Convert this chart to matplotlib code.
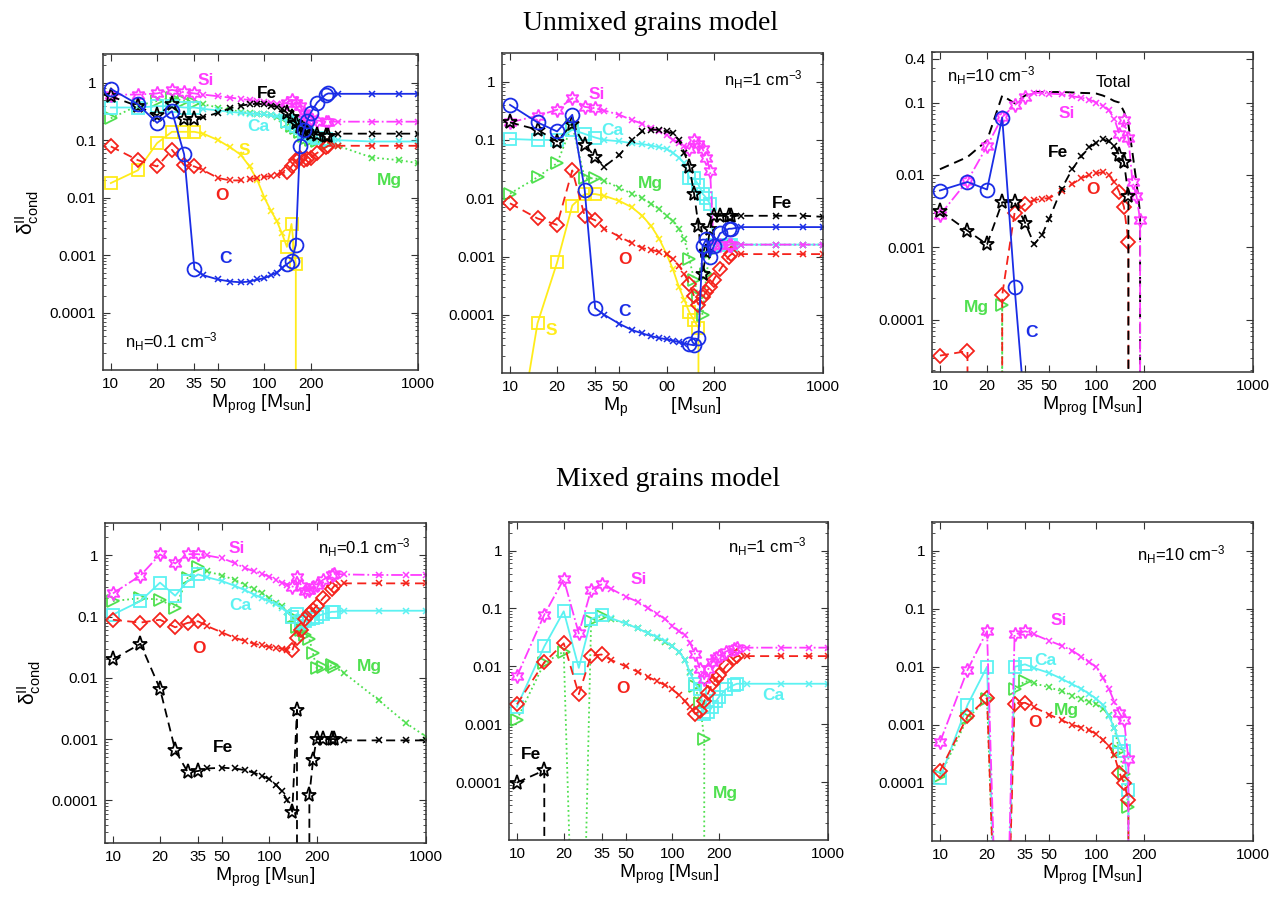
import numpy as np
import matplotlib.pyplot as plt
from matplotlib.ticker import FixedLocator, FixedFormatter, NullLocator, NullFormatter, LogLocator

plt.rcParams['font.family'] = 'Liberation Sans'
plt.rcParams['mathtext.fontset'] = 'custom'
plt.rcParams['mathtext.rm'] = 'Liberation Sans'
plt.rcParams['mathtext.it'] = 'Liberation Sans:italic'
plt.rcParams['mathtext.bf'] = 'Liberation Sans:bold'

nan = np.nan

# progenitor masses [M_sun]
MASS = [10, 15, 20, 25, 30, 35, 40, 50, 60, 70, 80, 90, 100, 110, 120, 130,
        140, 150, 160, 170, 180, 190, 200, 220, 250, 260, 300, 500, 750, 1000]
MASS_N10 = [10, 15, 20, 25, 30, 35, 40, 45, 50, 60, 70, 80, 90, 100, 110, 120, 130,
            140, 150, 160, 170, 180, 190, 200]
MASS_MIX10 = [10, 15, 20, 25, 30, 35, 40, 50, 60, 70, 80, 90, 100, 110, 120, 130,
              140, 150, 160, 170]

XTICKS = [10, 20, 35, 50, 100, 200, 1000]
XLABELS = ['10', '20', '35', '50', '100', '200', '1000']
XLABELS_B = ['10', '20', '35', '50', '00', '200', '1000']

# ---- unmixed, n_H = 0.1
P1_SI = [0.62, 0.62, 0.65, 0.75, 0.68, 0.65, 0.62, 0.58, 0.55, 0.52, 0.5, 0.48, 0.46, 0.44, 0.43, 0.42,
         0.45, 0.5, 0.45, 0.4, 0.3, 0.25, 0.23, 0.22, 0.21, 0.21, 0.21, 0.21, 0.21, 0.21]
P1_FE = [0.58, 0.39, 0.27, 0.42, 0.23, 0.23, 0.25, 0.3, 0.36, 0.4, 0.42, 0.43, 0.42, 0.4, 0.38, 0.35,
         0.3, 0.25, 0.2, 0.17, 0.15, 0.14, 0.13, 0.125, 0.12, 0.12, 0.13, 0.13, 0.13, 0.13]
P1_CA = [0.37, 0.37, 0.39, 0.39, 0.37, 0.37, 0.35, 0.33, 0.31, 0.3, 0.29, 0.285, 0.28, 0.27, 0.26, 0.24,
         0.22, 0.2, 0.18, 0.16, 0.14, 0.13, 0.12, 0.11, 0.105, 0.1, 0.1, 0.095, 0.095, 0.095]
P1_MG = [0.24, 0.4, 0.48, 0.55, 0.48, 0.45, 0.42, 0.37, 0.34, 0.31, 0.3, 0.29, 0.28, 0.27, 0.25, 0.23,
         0.21, 0.18, 0.16, 0.14, 0.12, 0.11, 0.1, 0.095, 0.09, 0.088, 0.08, 0.05, 0.045, 0.04]
P1_O = [0.078, 0.045, 0.035, 0.068, 0.037, 0.035, 0.03, 0.022, 0.02, 0.02, 0.021, 0.022, 0.023, 0.024, 0.025, 0.027,
        0.028, 0.035, 0.045, 0.05, 0.045, 0.048, 0.05, 0.06, 0.075, 0.08, 0.08, 0.08, 0.08, 0.08]
P1_S = [0.018, 0.03, 0.089, 0.14, 0.14, 0.14, 0.13, 0.1, 0.075, 0.056, 0.035, 0.02, 0.01, 0.006, 0.004, 0.0024,
        0.0014, 0.0035, 0.0007, 0, nan, nan, nan, nan, nan, nan, nan, nan, nan, nan]
P1_C = [0.78, 0.42, 0.2, 0.32, 0.057, 0.00058, 0.00045, 0.00038, 0.00035, 0.00034, 0.00035, 0.00038, 0.0004,
        0.00045, 0.0005, 0.0006, 0.0007, 0.0008, 0.0015, 0.08, 0.15, 0.22, 0.3, 0.45, 0.62, 0.65,
        0.64, 0.64, 0.64, 0.64]

# ---- unmixed, n_H = 1
P2_SI = [0.2, 0.26, 0.33, 0.52, 0.37, 0.35, 0.32, 0.27, 0.22, 0.19, 0.16, 0.14, 0.12, 0.1, 0.09, 0.08,
         0.07, 0.1, 0.085, 0.07, 0.05, 0.029, 0.0016, 0.0016, 0.0016, 0.0016, 0.0016, 0.0016, 0.0016, 0.0016]
P2_FE = [0.2, 0.15, 0.094, 0.19, 0.082, 0.052, 0.035, 0.055, 0.1, 0.14, 0.15, 0.15, 0.14, 0.13, 0.1, 0.06,
         0.035, 0.012, 0.0034, 0.0005, 0.0012, 0.003, 0.005, 0.005, 0.005, 0.005, 0.005, 0.005, 0.005, 0.0048]
P2_CA = [0.104, 0.1, 0.1, 0.15, 0.127, 0.11, 0.1, 0.095, 0.088, 0.085, 0.08, 0.075, 0.07, 0.06, 0.05, 0.04,
         0.022, 0.022, 0.017, 0.012, 0.01, 0.008, 0.0016, 0.0016, 0.0016, 0.0016, 0.0016, 0.0016, 0.0016, 0.0016]
P2_MG = [0.012, 0.023, 0.04, 0.18, 0.022, 0.022, 0.02, 0.015, 0.012, 0.01, 0.008, 0.0065, 0.005, 0.004, 0.003, 0.002,
         0.0009, 0.0004, 0.0002, 0.0001, 0.0005, 0.0012, 0.0016, 0.0016, 0.0016, 0.0016, 0.0016, 0.0016, 0.0016, 0.0016]
P2_O = [0.0082, 0.0045, 0.0035, 0.03, 0.005, 0.0042, 0.003, 0.0022, 0.0017, 0.0014, 0.0013, 0.0012, 0.0011,
        0.0009, 0.0007, 0.0005, 0.00034, 0.00021, 0.00015, 0.0002, 0.00025, 0.0003, 0.0004, 0.0006, 0.001, 0.0011,
        0.0011, 0.0011, 0.0011, 0.0011]
P2_S = [1e-7, 7.2e-5, 0.00079, 0.0075, 0.0118, 0.0118, 0.011, 0.009, 0.007, 0.005, 0.0033, 0.002, 0.0011,
        0.0006, 0.0003, 0.00018, 0.00011, 8e-5, 6e-5, 0, nan, nan, nan, nan, nan, nan, nan, nan, nan, nan]
P2_C = [0.4, 0.2, 0.14, 0.27, 0.014, 1.3e-4, 1e-4, 7e-5, 5.5e-5, 4.8e-5, 4.3e-5, 4e-5, 3.8e-5, 3.6e-5, 3.4e-5,
        3.2e-5, 3.1e-5, 3e-5, 4e-5, 0.0015, 0.002, 0.001, 0.0015, 0.0025, 0.003, 0.003,
        0.0032, 0.0032, 0.0032, 0.0032]

# ---- unmixed, n_H = 10
P3_TOTAL = [0.012, 0.0177, 0.03, 0.125, 0.098, 0.125, 0.14, 0.14, 0.14, 0.14, 0.138, 0.136, 0.135, 0.133,
            0.125, 0.115, 0.105, 0.1, 0.075, 0.05, 0.02, 0.008, 0.003, 0]
P3_SI = [0.0028, 0.0083, 0.025, 0.063, 0.092, 0.12, 0.136, 0.136, 0.133, 0.13, 0.122, 0.117, 0.11, 0.1,
         0.09, 0.078, 0.06, 0.037, 0.057, 0.032, 0.008, 0.0052, 0.0024, 0]
P3_C = [0.0061, 0.008, 0.0063, 0.062, 0.00028, 5e-6, nan, nan, nan, nan, nan, nan, nan, nan,
        nan, nan, nan, nan, nan, nan, nan, nan, nan, nan]
P3_FE = [0.0032, 0.0017, 0.0011, 0.0042, 0.0042, 0.0022, 0.0011, 0.0015, 0.0025, 0.0065, 0.012, 0.018, 0.024,
         0.028, 0.031, 0.029, 0.025, 0.0187, 0.015, 0.0052, 0, nan, nan, nan]
P3_O = [3.2e-5, 3.7e-5, 0, 2.2e-4, 0.003, 0.004, 0.0045, 0.0047, 0.0048, 0.006, 0.0075, 0.009, 0.01, 0.0105,
        0.011, 0.01, 0.008, 0.0058, 0.0036, 0.0012, 0, nan, nan, nan]
P3_MG = [nan, nan, 0, 1.6e-4, 0, nan, nan, nan, nan, nan, nan, nan, nan, nan,
         nan, nan, nan, nan, nan, nan, nan, nan, nan, nan]

# ---- mixed, n_H = 0.1
P4_SI = [0.24, 0.47, 1.04, 0.74, 1.05, 1.05, 1.0, 0.9, 0.75, 0.62, 0.55, 0.5, 0.45, 0.4, 0.36, 0.33,
         0.3, 0.45, 0.32, 0.26, 0.27, 0.3, 0.33, 0.4, 0.48, 0.5, 0.49, 0.48, 0.48, 0.48]
P4_CA = [0.108, 0.18, 0.36, 0.22, 0.38, 0.49, 0.44, 0.38, 0.32, 0.27, 0.23, 0.2, 0.18, 0.16, 0.14, 0.12,
         0.1, 0.11, 0.08, 0.085, 0.09, 0.095, 0.1, 0.11, 0.12, 0.12, 0.125, 0.125, 0.125, 0.125]
P4_MG = [0.18, 0.2, 0.19, 0.14, 0.43, 0.65, 0.55, 0.47, 0.4, 0.33, 0.28, 0.24, 0.2, 0.17, 0.15, 0.12,
         0.1, 0.069, 0.06, 0.05, 0.043, 0.025, 0.0145, 0.015, 0.016, 0.015, 0.012, 0.0043, 0.0018, 0.0011]
P4_O = [0.089, 0.08, 0.089, 0.067, 0.079, 0.084, 0.07, 0.055, 0.045, 0.04, 0.036, 0.034, 0.032, 0.031, 0.03, 0.029,
        0.028, 0.045, 0.06, 0.09, 0.11, 0.13, 0.15, 0.2, 0.28, 0.32, 0.35, 0.35, 0.35, 0.35]
P4_FE = [0.02, 0.036, 0.0066, 0.00066, 0.00029, 0.0003, 0.00033, 0.00034, 0.00033, 0.00031, 0.00028, 0.00025,
         0.00022, 0.00018, 0.00014, 0.0001, 6.5e-5, 0.003, 0, 0, 0.00012, 0.00045, 0.001, 0.001, 0.001, 0.001,
         0.00095, 0.00095, 0.00095, 0.00095]

# ---- mixed, n_H = 1
P5_SI = [0.0067, 0.078, 0.32, 0.037, 0.21, 0.26, 0.22, 0.16, 0.13, 0.1, 0.08, 0.065, 0.05, 0.04, 0.035, 0.025,
         0.016, 0.009, 0.006, 0.009, 0.012, 0.014, 0.015, 0.018, 0.02, 0.021, 0.021, 0.021, 0.021, 0.021]
P5_CA = [0.002, 0.022, 0.089, 0.0094, 0.065, 0.078, 0.068, 0.055, 0.045, 0.037, 0.032, 0.027, 0.022, 0.018,
         0.013, 0.0077, 0.0049, 0.004, 0.0015, 0.0016, 0.002, 0.0025, 0.003, 0.004, 0.0048, 0.005,
         0.005, 0.005, 0.005, 0.005]
P5_MG = [0.0012, 0.0114, 0.018, 3e-11, 0.06, 0.075, 0.065, 0.055, 0.045, 0.037, 0.031, 0.026, 0.022, 0.018,
         0.013, 0.008, 0.0045, 0.0023, 0.00056, 0, nan, nan, nan, nan, nan, nan, nan, nan, nan, nan]
P5_O = [0.0022, 0.0117, 0.025, 0.0033, 0.0152, 0.016, 0.013, 0.01, 0.008, 0.0065, 0.0055, 0.0047, 0.004, 0.0032,
        0.0025, 0.002, 0.0015, 0.0017, 0.0025, 0.0035, 0.005, 0.006, 0.007, 0.01, 0.014, 0.015,
        0.015, 0.015, 0.015, 0.015]
P5_FE = [9.8e-5, 1.6e-4, 0, nan, nan, nan, nan, nan, nan, nan, nan, nan, nan, nan, nan, nan,
         nan, nan, nan, nan, nan, nan, nan, nan, nan, nan, nan, nan, nan, nan]

# ---- mixed, n_H = 10
P6_SI = [5e-4, 0.0088, 0.041, 1e-10, 0.036, 0.041, 0.036, 0.028, 0.023, 0.019, 0.015, 0.012, 0.0098, 0.0065,
         0.0042, 0.0025, 0.0016, 0.0012, 0.00026, 0]
P6_CA = [1.2e-4, 0.0022, 0.01, 1e-10, 0.01, 0.011, 0.0095, 0.0078, 0.0062, 0.005, 0.0042, 0.0034, 0.0028, 0.0022,
         0.0014, 0.0009, 0.0005, 0.00035, 7.5e-5, 0]
P6_MG = [1.3e-4, 0.0013, 0.0028, 1e-10, 0.0041, 0.0057, 0.0052, 0.0044, 0.0038, 0.0032, 0.0028, 0.0025, 0.0023,
         0.0019, 0.0015, 0.0009, 0.00035, 0.00014, 3.9e-5, 0]
P6_O = [1.6e-4, 0.0014, 0.0029, 1e-10, 0.0023, 0.0024, 0.002, 0.0015, 0.0012, 0.001, 0.0009, 0.0008, 0.0007,
        0.00055, 0.00043, 0.0003, 0.00015, 0.0001, 5e-5, 0]

# colour, big marker, line style, marker size
STYLE = {
    'Si': ('#ff3cff', (6, 1, 0), '-.', 10),
    'Fe': ('black', '*', '--', 11),
    'Ca': ('#5cf2f2', 's', '-', 8),
    'Mg': ('#4fe04f', '>', ':', 9),
    'O': ('#f5231c', 'D', '--', 7.5),
    'S': ('#ffec1a', 's', '-', 8),
    'C': ('#1a2de6', 'o', '-', 10),
}


def draw(ax, mass, vals, el):
    color, mk, ls, ms = STYLE[el]
    m = np.asarray(mass, float)
    v = np.asarray(vals, float)
    ok = ~np.isnan(v)
    line, = ax.plot(m[ok], v[ok], color=color, ls=ls, lw=1.3)
    if ls == '--':
        line.set_dashes((5, 3))
    big = ok & (v > 0) & ((m <= 35) | ((m >= 140) & (m <= 260)))
    small = ok & (v > 0) & ~big
    ax.plot(m[big], v[big], ls='none', marker=mk, ms=ms, mfc='none', mec=color, mew=1.3)
    ax.plot(m[small], v[small], ls='none', marker='x', ms=4, color=color, mew=1.1)


YT = [1e-4, 1e-3, 1e-2, 0.1, 1]
YL = ['0.0001', '0.001', '0.01', '0.1', '1']

fig = plt.figure(figsize=(12.88, 8.99), dpi=100)


def make_axes(rect, ylim, yticks, ylabels, xlabels, xlabel, ylab=False):
    ax = fig.add_axes(rect)
    ax.set_xscale('log')
    ax.set_yscale('log')
    ax.set_xlim(8.9, 1000)
    ax.set_ylim(*ylim)
    ax.xaxis.set_major_locator(FixedLocator(XTICKS))
    ax.xaxis.set_major_formatter(FixedFormatter(xlabels))
    ax.xaxis.set_minor_locator(NullLocator())
    ax.yaxis.set_major_locator(FixedLocator(yticks))
    ax.yaxis.set_major_formatter(FixedFormatter(ylabels))
    ax.yaxis.set_minor_locator(LogLocator(base=10, subs=np.arange(2, 10)))
    ax.yaxis.set_minor_formatter(NullFormatter())
    ax.tick_params(which='both', direction='in', top=True, right=True, labelsize=11, color='#333333')
    ax.tick_params(which='major', length=5, pad=5)
    ax.tick_params(which='minor', length=2.5)
    for s in ax.spines.values():
        s.set_color('#333333')
        s.set_linewidth(1.1)
    ax.set_xlabel(xlabel, fontsize=14, labelpad=1)
    if ylab:
        ax.set_ylabel(r'$\mathrm{\delta}^{\mathrm{II}}_{\mathrm{cond}}$', fontsize=15, labelpad=6)
    return ax


def label(ax, x, y, txt, el):
    ax.text(x, y, txt, transform=ax.transAxes, color=STYLE[el][0], fontsize=12.5,
            fontweight='bold', ha='center', va='center')


def nh(ax, x, y, txt):
    ax.text(x, y, txt, transform=ax.transAxes, fontsize=12, ha='left', va='center')


XLAB = r'M$_{\rm prog}$ [M$_{\rm sun}$]'

# top left
ax = make_axes([0.080, 0.588, 0.2446, 0.3515], (1e-5, 3.1), YT, YL, XLABELS, XLAB, ylab=True)
draw(ax, MASS, P1_S, 'S')
draw(ax, MASS, P1_MG, 'Mg')
draw(ax, MASS, P1_CA, 'Ca')
draw(ax, MASS, P1_O, 'O')
draw(ax, MASS, P1_SI, 'Si')
draw(ax, MASS, P1_FE, 'Fe')
draw(ax, MASS, P1_C, 'C')
label(ax, 0.326, 0.918, 'Si', 'Si')
label(ax, 0.519, 0.876, 'Fe', 'Fe')
label(ax, 0.492, 0.772, 'Ca', 'Ca')
label(ax, 0.45, 0.696, 'S', 'S')
label(ax, 0.379, 0.554, 'O', 'O')
label(ax, 0.39, 0.353, 'C', 'C')
label(ax, 0.91, 0.602, 'Mg', 'Mg')
nh(ax, 0.069, 0.09, r'n$_{\rm H}$=0.1 cm$^{-3}$')

# top middle
ax = make_axes([0.3898, 0.585, 0.2492, 0.356], (1e-5, 3.1), YT, YL, XLABELS_B,
               r'M$_{\rm p}$        [M$_{\rm sun}$]')
draw(ax, MASS, P2_S, 'S')
draw(ax, MASS, P2_MG, 'Mg')
draw(ax, MASS, P2_CA, 'Ca')
draw(ax, MASS, P2_O, 'O')
draw(ax, MASS, P2_SI, 'Si')
draw(ax, MASS, P2_FE, 'Fe')
draw(ax, MASS, P2_C, 'C')
label(ax, 0.296, 0.87, 'Si', 'Si')
label(ax, 0.343, 0.758, 'Ca', 'Ca')
label(ax, 0.462, 0.591, 'Mg', 'Mg')
label(ax, 0.872, 0.53, 'Fe', 'Fe')
label(ax, 0.384, 0.355, 'O', 'O')
label(ax, 0.382, 0.191, 'C', 'C')
label(ax, 0.152, 0.134, 'S', 'S')
nh(ax, 0.69, 0.916, r'n$_{\rm H}$=1 cm$^{-3}$')

# top right
ax = make_axes([0.7236, 0.5862, 0.2492, 0.356], (1.9e-5, 0.5), [1e-4, 1e-3, 1e-2, 0.1, 0.4],
               ['0.0001', '0.001', '0.01', '0.1', '0.4'], XLABELS, XLAB)
total, = ax.plot(MASS_N10, P3_TOTAL, color='black', ls='--', lw=1.4)
total.set_dashes((5, 3))
draw(ax, MASS_N10, P3_MG, 'Mg')
draw(ax, MASS_N10, P3_O, 'O')
draw(ax, MASS_N10, P3_SI, 'Si')
draw(ax, MASS_N10, P3_FE, 'Fe')
draw(ax, MASS_N10, P3_C, 'C')
ax.text(0.565, 0.906, 'Total', transform=ax.transAxes, fontsize=12, ha='center', va='center')
label(ax, 0.42, 0.807, 'Si', 'Si')
label(ax, 0.394, 0.687, 'Fe', 'Fe')
label(ax, 0.503, 0.57, 'O', 'O')
label(ax, 0.138, 0.203, 'Mg', 'Mg')
label(ax, 0.311, 0.122, 'C', 'C')
nh(ax, 0.047, 0.927, r'n$_{\rm H}$=10 cm$^{-3}$')

# bottom left
ax = make_axes([0.0815, 0.0623, 0.2492, 0.356], (2e-5, 3.4), YT, YL, XLABELS, XLAB, ylab=True)
draw(ax, MASS, P4_MG, 'Mg')
draw(ax, MASS, P4_CA, 'Ca')
draw(ax, MASS, P4_O, 'O')
draw(ax, MASS, P4_SI, 'Si')
draw(ax, MASS, P4_FE, 'Fe')
label(ax, 0.412, 0.919, 'Si', 'Si')
label(ax, 0.421, 0.742, 'Ca', 'Ca')
label(ax, 0.294, 0.609, 'O', 'O')
label(ax, 0.823, 0.552, 'Mg', 'Mg')
label(ax, 0.367, 0.299, 'Fe', 'Fe')
nh(ax, 0.665, 0.922, r'n$_{\rm H}$=0.1 cm$^{-3}$')

# bottom middle
ax = make_axes([0.3952, 0.0656, 0.2477, 0.3537], (1e-5, 3.1), YT, YL, XLABELS, XLAB)
draw(ax, MASS, P5_MG, 'Mg')
draw(ax, MASS, P5_CA, 'Ca')
draw(ax, MASS, P5_O, 'O')
draw(ax, MASS, P5_SI, 'Si')
draw(ax, MASS, P5_FE, 'Fe')
label(ax, 0.408, 0.82, 'Si', 'Si')
label(ax, 0.357, 0.476, 'O', 'O')
label(ax, 0.828, 0.455, 'Ca', 'Ca')
label(ax, 0.07, 0.27, 'Fe', 'Fe')
label(ax, 0.679, 0.147, 'Mg', 'Mg')
nh(ax, 0.686, 0.921, r'n$_{\rm H}$=1 cm$^{-3}$')

# bottom right
ax = make_axes([0.7236, 0.0645, 0.2492, 0.3548], (1e-5, 3.1), YT, YL, XLABELS, XLAB)
draw(ax, MASS_MIX10, P6_MG, 'Mg')
draw(ax, MASS_MIX10, P6_CA, 'Ca')
draw(ax, MASS_MIX10, P6_O, 'O')
draw(ax, MASS_MIX10, P6_SI, 'Si')
label(ax, 0.394, 0.692, 'Si', 'Si')
label(ax, 0.352, 0.566, 'Ca', 'Ca')
label(ax, 0.42, 0.41, 'Mg', 'Mg')
label(ax, 0.321, 0.372, 'O', 'O')
nh(ax, 0.639, 0.899, r'n$_{\rm H}$=10 cm$^{-3}$')

fig.text(0.505, 1 - 24 / 899, 'Unmixed grains model', family='Liberation Serif', fontsize=20,
         ha='center', va='center')
fig.text(0.5186, 1 - 479 / 899, 'Mixed grains model', family='Liberation Serif', fontsize=20,
         ha='center', va='center')

fig.savefig('out.png', dpi=100)
